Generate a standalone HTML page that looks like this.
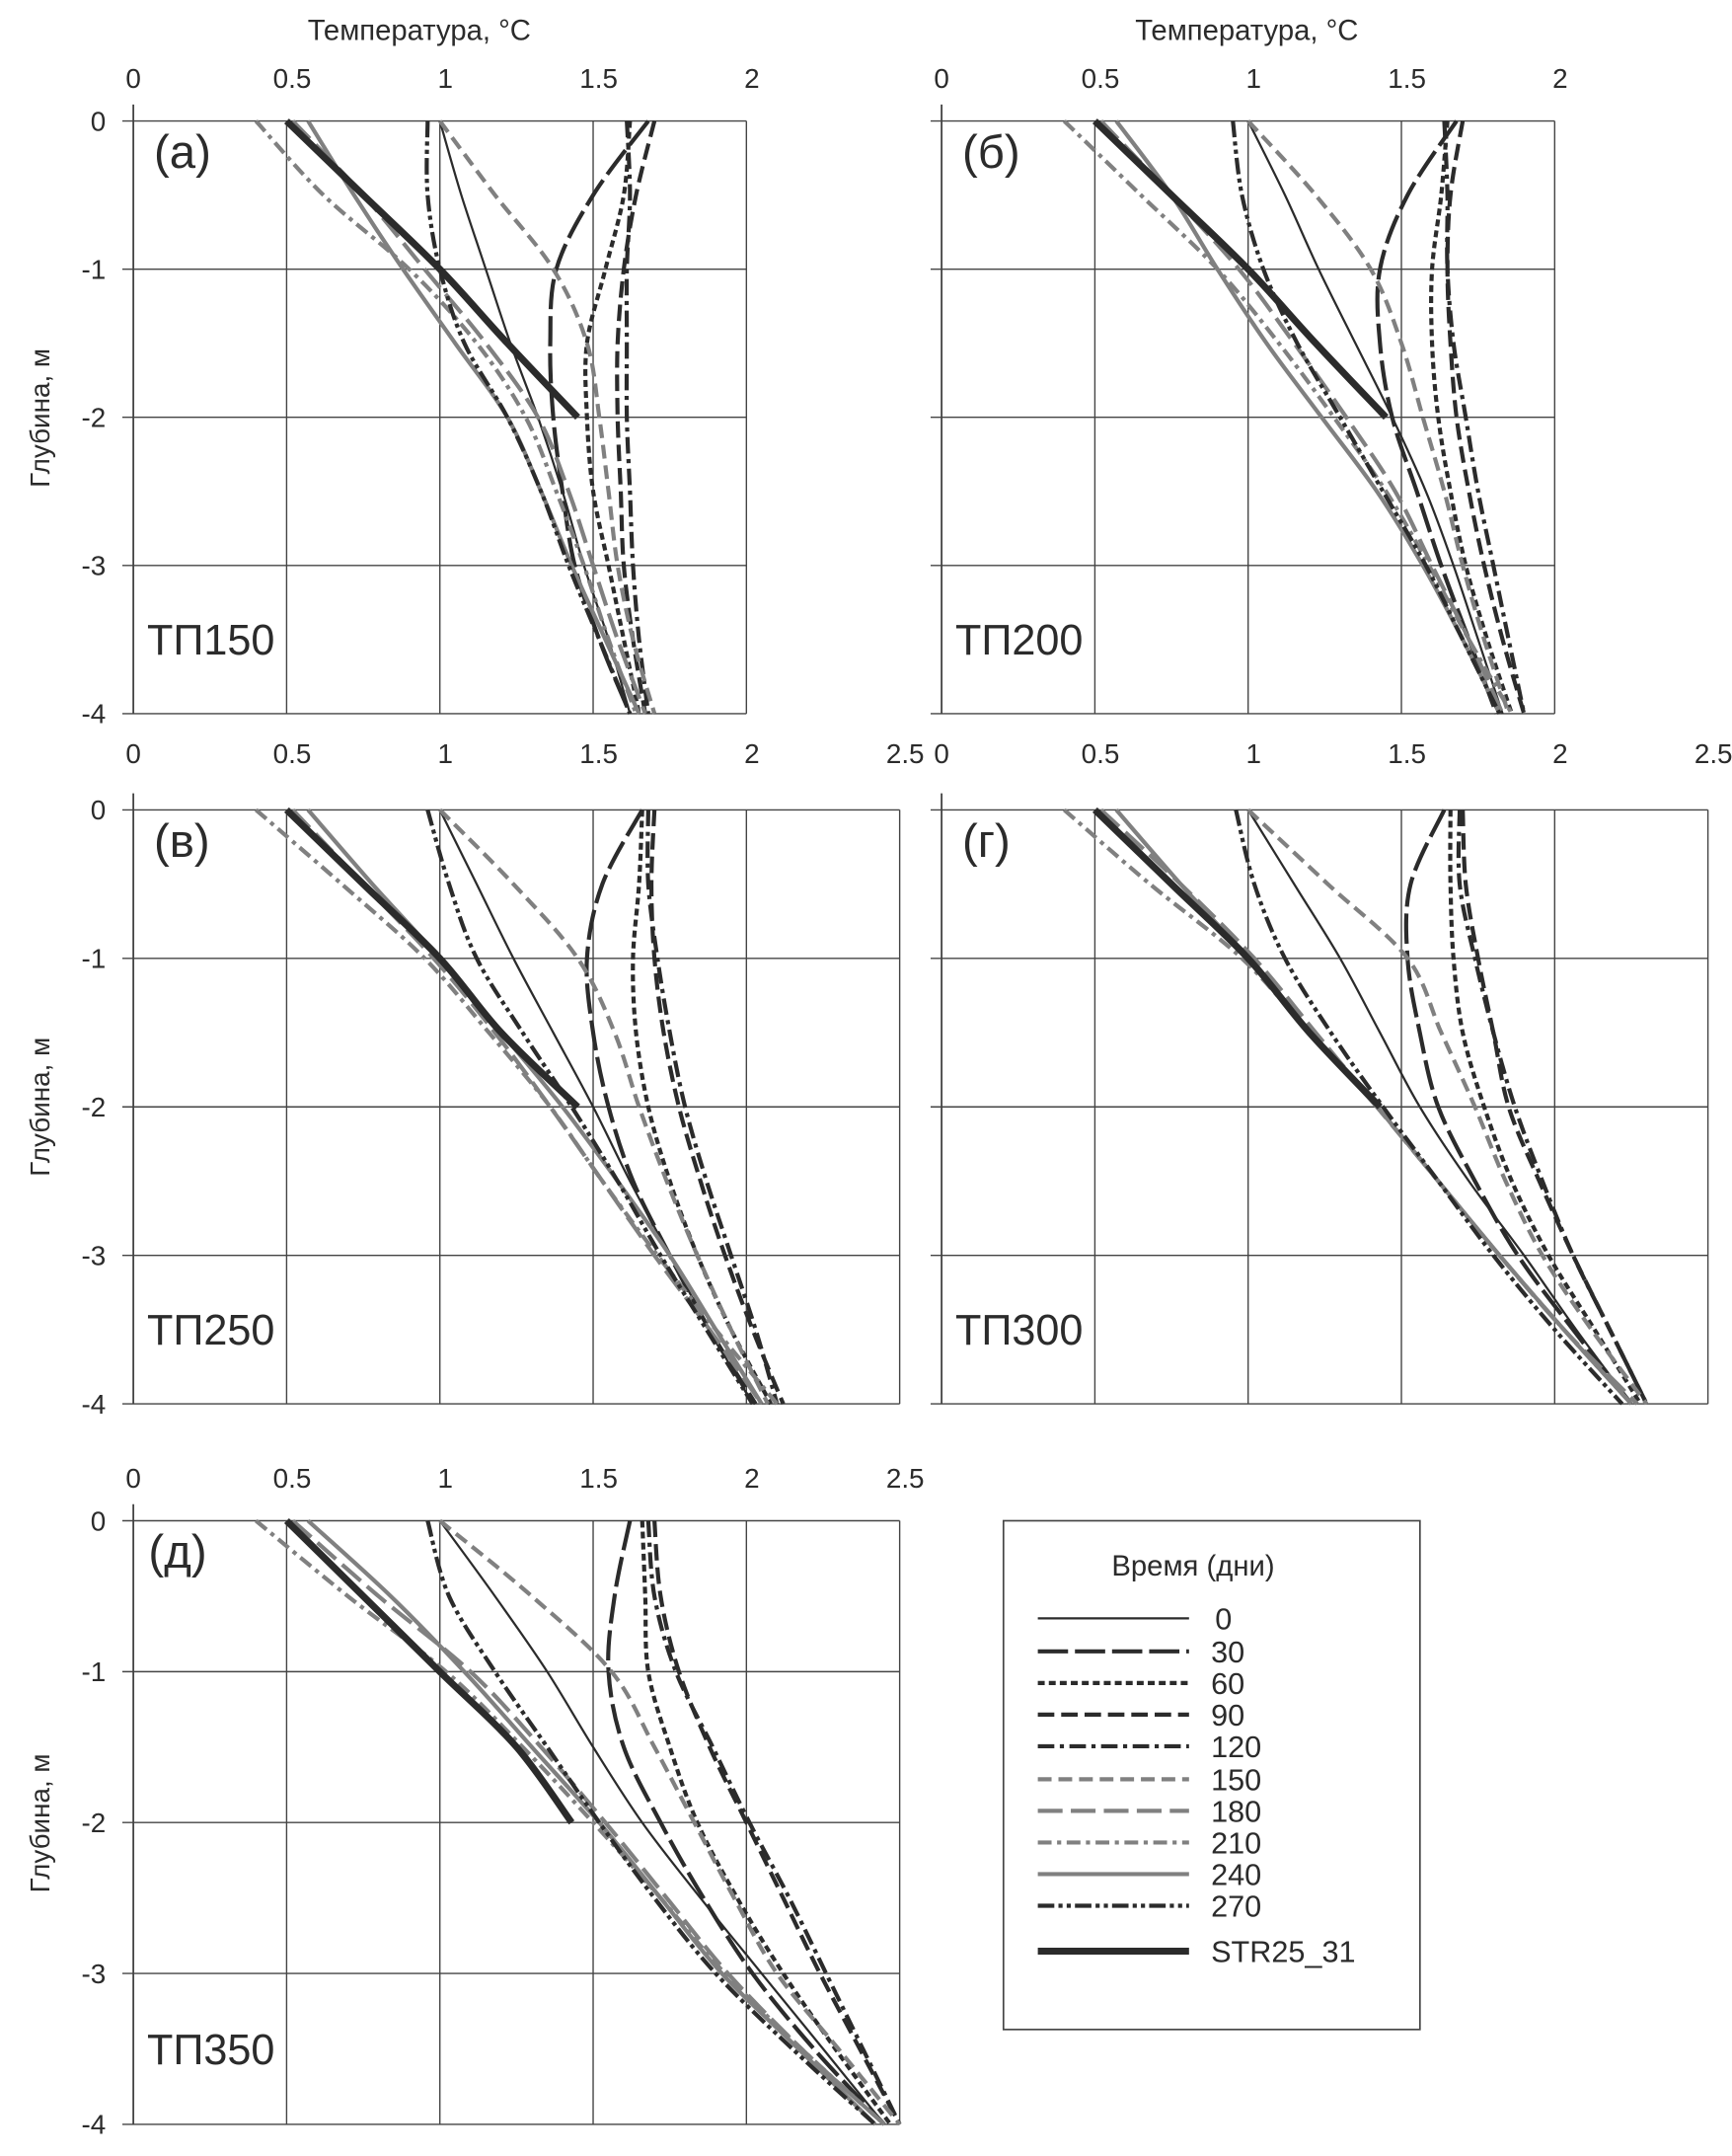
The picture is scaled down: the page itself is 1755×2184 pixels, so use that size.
<!DOCTYPE html>
<html><head><meta charset="utf-8">
<style>
html,body{margin:0;padding:0;background:#fff;}
svg{display:block;}
text{font-family:"Liberation Sans",sans-serif;fill:#2b2b2b;}
</style></head>
<body>
<svg id="fig" width="1755" height="2184" viewBox="0 0 1260 1568" preserveAspectRatio="none" xmlns="http://www.w3.org/2000/svg"></svg>
<script>
const depths = [0,-0.5,-1,-1.5,-2,-2.5,-3,-3.5,-4];
const strDepths = [0,-0.5,-1,-1.5,-2];
const seriesNames = ["0","30","60","90","120","150","180","210","240","270","STR25_31"];
const xTicksA = ["0","0.5","1","1.5","2"];
const xTicksB = ["0","0.5","1","1.5","2","2.5"];
const yTicks = ["0","-1","-2","-3","-4"];

const tp150 = [
 [1.0,1.07,1.15,1.23,1.32,1.40,1.47,1.55,1.62],
 [1.68,1.5,1.38,1.36,1.37,1.40,1.44,1.52,1.62],
 [1.62,1.6,1.54,1.48,1.48,1.5,1.55,1.6,1.65],
 [1.7,1.64,1.6,1.58,1.58,1.59,1.6,1.63,1.67],
 [1.61,1.62,1.61,1.61,1.61,1.62,1.63,1.65,1.68],
 [1.0,1.18,1.37,1.48,1.52,1.55,1.58,1.63,1.7],
 [0.52,0.75,0.95,1.15,1.32,1.42,1.5,1.58,1.67],
 [0.4,0.62,0.9,1.12,1.28,1.38,1.47,1.55,1.64],
 [0.57,0.72,0.88,1.05,1.22,1.33,1.43,1.54,1.65],
 [0.96,0.96,1.0,1.08,1.22,1.33,1.42,1.52,1.62],
 [0.5,0.75,1.0,1.22,1.45]
];
const tp200 = [
 [1.0,1.12,1.23,1.35,1.47,1.58,1.67,1.75,1.83],
 [1.68,1.52,1.43,1.43,1.47,1.55,1.63,1.72,1.81],
 [1.65,1.63,1.6,1.6,1.62,1.66,1.71,1.78,1.86],
 [1.7,1.66,1.65,1.66,1.68,1.72,1.77,1.83,1.9],
 [1.64,1.65,1.65,1.67,1.71,1.75,1.8,1.85,1.9],
 [1.0,1.22,1.4,1.5,1.57,1.64,1.7,1.77,1.85],
 [0.52,0.75,0.97,1.15,1.32,1.48,1.6,1.72,1.83],
 [0.4,0.65,0.9,1.1,1.28,1.45,1.59,1.72,1.86],
 [0.57,0.75,0.9,1.06,1.24,1.42,1.57,1.7,1.82],
 [0.95,0.98,1.05,1.16,1.3,1.44,1.58,1.7,1.82],
 [0.5,0.75,1.0,1.22,1.45]
];
const tp250 = [
 [1.0,1.12,1.24,1.37,1.5,1.62,1.75,1.88,2.02],
 [1.66,1.53,1.48,1.5,1.55,1.63,1.75,1.88,2.03],
 [1.66,1.65,1.63,1.64,1.68,1.75,1.84,1.95,2.08],
 [1.7,1.69,1.7,1.73,1.78,1.85,1.93,2.02,2.12],
 [1.68,1.68,1.71,1.75,1.8,1.87,1.95,2.03,2.1],
 [1.0,1.24,1.45,1.57,1.65,1.74,1.84,1.95,2.07],
 [0.52,0.75,0.98,1.18,1.36,1.53,1.7,1.88,2.05],
 [0.4,0.68,0.95,1.16,1.36,1.53,1.71,1.9,2.1],
 [0.57,0.78,1.0,1.2,1.4,1.58,1.75,1.9,2.05],
 [0.96,1.03,1.12,1.27,1.43,1.58,1.72,1.87,2.02],
 [0.5,0.75,1.0,1.2,1.45]
];
const tp300 = [
 [1.0,1.15,1.3,1.43,1.56,1.72,1.9,2.07,2.25],
 [1.64,1.53,1.52,1.56,1.62,1.74,1.88,2.06,2.25],
 [1.66,1.66,1.67,1.7,1.77,1.86,1.98,2.13,2.28],
 [1.7,1.71,1.75,1.8,1.85,1.95,2.06,2.18,2.3],
 [1.69,1.69,1.74,1.8,1.87,1.96,2.06,2.18,2.3],
 [1.0,1.26,1.52,1.63,1.74,1.84,1.96,2.12,2.3],
 [0.52,0.78,1.02,1.22,1.42,1.62,1.82,2.03,2.27],
 [0.4,0.68,0.98,1.2,1.42,1.62,1.82,2.03,2.25],
 [0.57,0.78,1.0,1.2,1.42,1.62,1.82,2.03,2.25],
 [0.96,1.02,1.12,1.27,1.44,1.62,1.8,2.0,2.22],
 [0.5,0.75,1.0,1.2,1.43]
];
const tp350 = [
 [1.0,1.18,1.35,1.5,1.66,1.85,2.05,2.25,2.45],
 [1.62,1.57,1.55,1.6,1.72,1.86,2.02,2.22,2.45],
 [1.66,1.67,1.68,1.75,1.84,1.97,2.12,2.29,2.47],
 [1.7,1.72,1.78,1.88,2.0,2.12,2.24,2.37,2.5],
 [1.68,1.7,1.77,1.89,2.01,2.14,2.26,2.38,2.5],
 [1.0,1.3,1.56,1.7,1.83,1.96,2.1,2.3,2.5],
 [0.52,0.8,1.1,1.33,1.54,1.74,1.94,2.18,2.45],
 [0.4,0.7,1.02,1.27,1.5,1.72,1.93,2.18,2.45],
 [0.57,0.84,1.08,1.3,1.52,1.72,1.92,2.17,2.42],
 [0.96,1.03,1.18,1.35,1.52,1.7,1.9,2.15,2.42],
 [0.5,0.75,1.0,1.25,1.43]
];

const DK="#2b2b2b", GR="#808080";
const styles=[
 {c:DK,w:1.6,d:""},{c:DK,w:3,d:"22 5"},{c:DK,w:3,d:"5 3"},{c:DK,w:3,d:"12 5"},
 {c:DK,w:3,d:"12 4 3 4"},{c:GR,w:3,d:"10 5"},{c:GR,w:3,d:"18 6"},{c:GR,w:3,d:"10 4 3 4"},
 {c:GR,w:3,d:""},{c:DK,w:3,d:"12 3 3 3 3 3"},{c:DK,w:5,d:""}
];

const svg=document.getElementById('fig');
const NS="http://www.w3.org/2000/svg";
function mk(tag,attrs,parent){const e=document.createElementNS(NS,tag);for(const k in attrs)e.setAttribute(k,attrs[k]);(parent||svg).appendChild(e);return e;}
function txt(s,x,y,size,anchor,parent){const t=mk('text',{x:x,y:y,'font-size':size,'text-anchor':anchor||'middle'},parent);t.textContent=s;return t;}
function smooth(pts){
 let d="M"+pts[0][0].toFixed(1)+","+pts[0][1].toFixed(1);
 for(let i=0;i<pts.length-1;i++){
  const p0=pts[Math.max(0,i-1)],p1=pts[i],p2=pts[i+1],p3=pts[Math.min(pts.length-1,i+2)];
  const c1=[p1[0]+(p2[0]-p0[0])/6,p1[1]+(p2[1]-p0[1])/6];
  const c2=[p2[0]-(p3[0]-p1[0])/6,p2[1]-(p3[1]-p1[1])/6];
  d+=" C"+c1[0].toFixed(1)+","+c1[1].toFixed(1)+" "+c2[0].toFixed(1)+","+c2[1].toFixed(1)+" "+p2[0].toFixed(1)+","+p2[1].toFixed(1);
 }
 return d;
}

function panel(cfg){
 const g=mk('g',{});
 
 
 const L=cfg.left,T=cfg.top,B=cfg.bottom,ux=223,xmax=cfg.xt.length-1;
 const R=L+ux*0.5*xmax;
 const sx=v=>L+v*ux, sy=v=>T+(-v)*(B-T)/4;
 for(let i=0;i<=xmax;i++){
  const x=sx(i*0.5);
  const gl=mk('line',{x1:x,y1:i==0?T-12:T,x2:x,y2:B,stroke:"#444","stroke-width":i==0?1.3:1},g);
  
  
  const tl=txt(cfg.xt[i],x+(i==0?0:4),cfg.labelY,20,'middle',g);
  
  
 }
 for(let j=0;j<yTicks.length;j++){
  const y=sy(-j);
  const hl=mk('line',{x1:L-8,y1:y,x2:R,y2:y,stroke:"#444","stroke-width":1},g);
  
  
  if(cfg.ylabels){
   const yl=txt(yTicks[j],L-20,y+7,20,'end',g);
   
   
  }
 }
 cfg.data.forEach((vals,k)=>{
  const ds=(k==10)?strDepths:depths;
  const pts=vals.map((v,i)=>[sx(v),sy(ds[i])]);
  const st=styles[k];
  const p=mk('path',{d:smooth(pts),fill:"none",stroke:st.c,"stroke-width":st.w,"stroke-dasharray":st.d,"stroke-linecap":"butt","stroke-linejoin":"round"},g);
  
  
 });
 const pl=txt(cfg.letter,cfg.lx,cfg.ly,34,'start',g);
 
 
 const tn=txt(cfg.tp,L+10,T+(B-T)*0.9,31,'start',g);
 
 
}

panel({name:'panel-tp150',left:97,top:88,bottom:519,xt:xTicksA,labelY:64,data:tp150,letter:'(а)',lx:112,ly:122,tp:'ТП150',ylabels:true});
panel({name:'panel-tp200',left:685,top:88,bottom:519,xt:xTicksA,labelY:64,data:tp200,letter:'(б)',lx:700,ly:122,tp:'ТП200',ylabels:false});
panel({name:'panel-tp250',left:97,top:589,bottom:1021,xt:xTicksB,labelY:555,data:tp250,letter:'(в)',lx:112,ly:623,tp:'ТП250',ylabels:true});
panel({name:'panel-tp300',left:685,top:589,bottom:1021,xt:xTicksB,labelY:555,data:tp300,letter:'(г)',lx:700,ly:623,tp:'ТП300',ylabels:false});
panel({name:'panel-tp350',left:97,top:1106,bottom:1545,xt:xTicksB,labelY:1082,data:tp350,letter:'(д)',lx:108,ly:1140,tp:'ТП350',ylabels:true});

[305,907].forEach(x=>{
 const t=txt('Температура, °C',x,29,21,'middle');
 
 
});
[304,805,1326].forEach(y=>{
 const t=mk('text',{x:0,y:0,'font-size':20,'text-anchor':'middle',transform:'translate(36,'+y+') rotate(-90)'});
 t.textContent='Глубина, м';
 
 
});

const lg=mk('g',{});


const box=mk('rect',{x:730,y:1106,width:303,height:370,fill:"none",stroke:"#444","stroke-width":1.2},lg);


const lt=txt('Время (дни)',868,1146,21,'middle',lg);


const legY=[1177,1201,1224,1247,1270,1294,1317,1340,1363,1386,1419];
seriesNames.forEach((n,k)=>{
 const st=styles[k];
 const y=legY[k];
 const ln=mk('line',{x1:755,y1:y,x2:865,y2:y,stroke:st.c,"stroke-width":st.w,"stroke-dasharray":st.d},lg);
 
 
 const tx=txt(n,k==0?884:881,y+8,22,'start',lg);
 
 
});
</script>
</body></html>
